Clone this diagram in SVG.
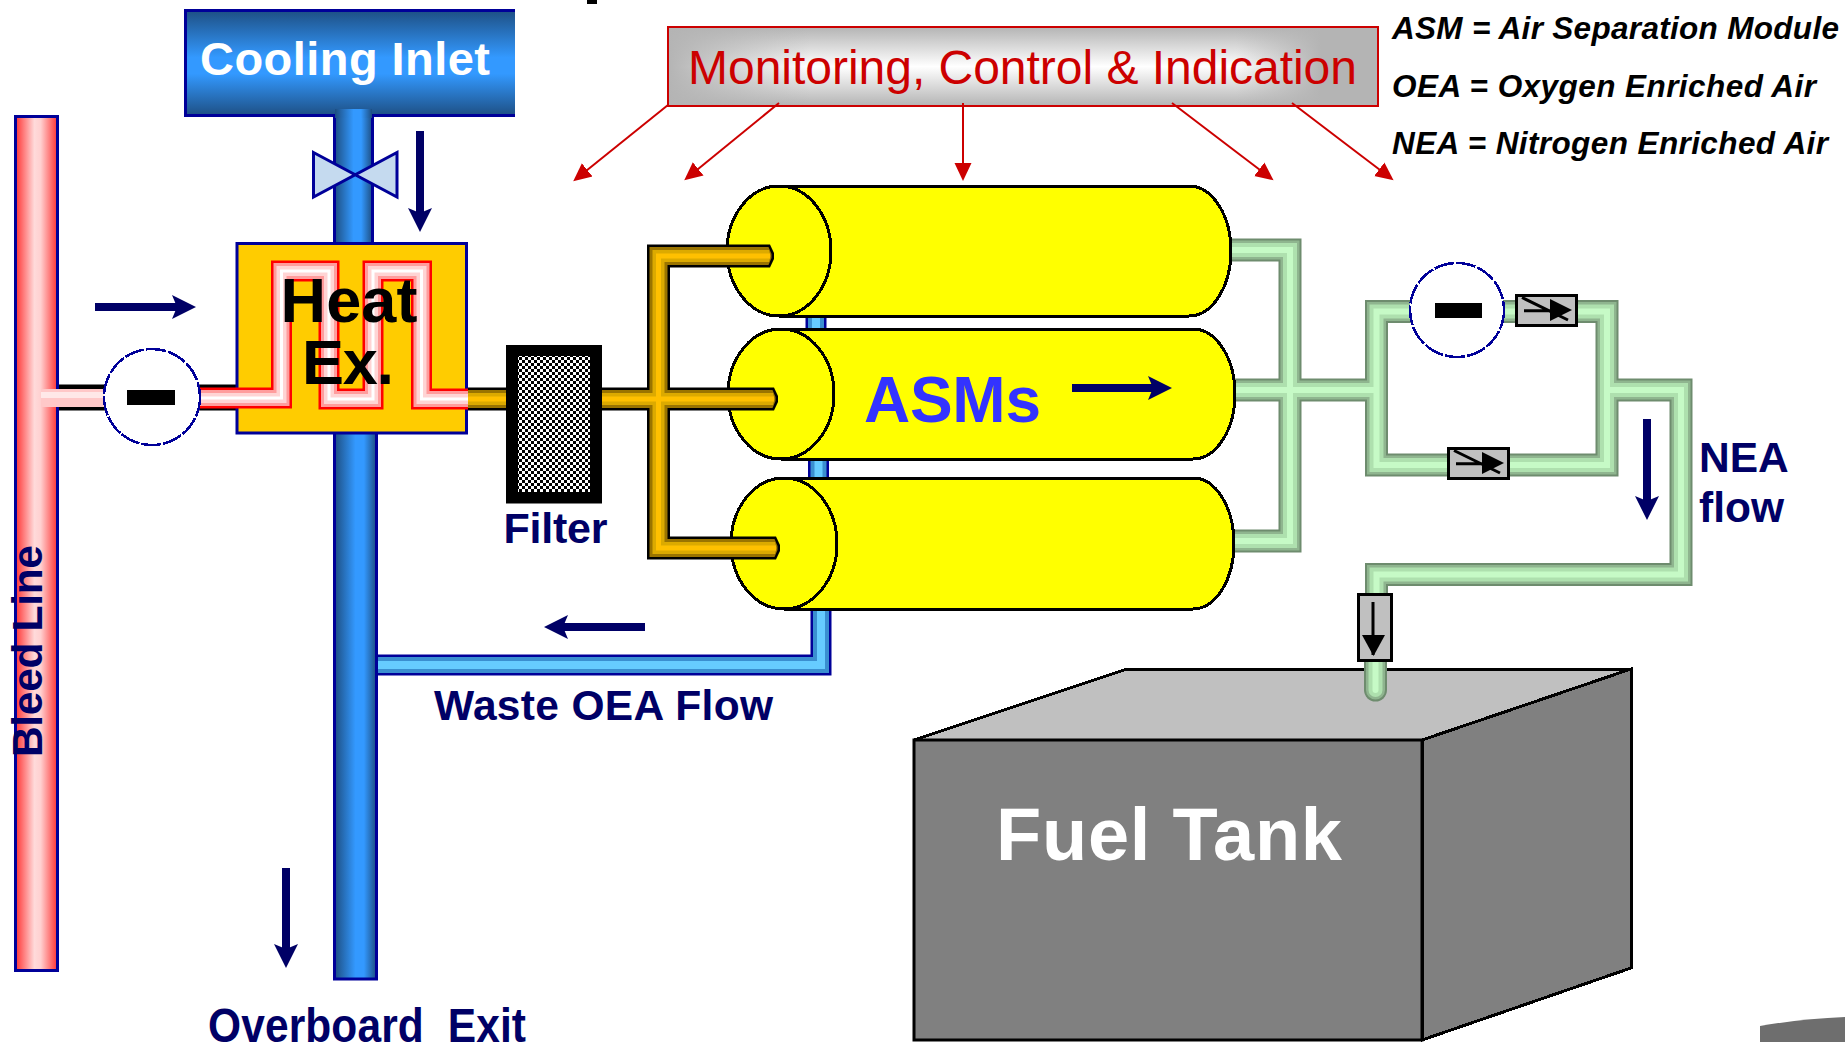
<svg xmlns="http://www.w3.org/2000/svg" xmlns:xlink="http://www.w3.org/1999/xlink" width="1845" height="1042" viewBox="0 0 1845 1042">
<style>
text{font-family:"Liberation Sans",Arial,sans-serif;font-weight:bold}
.navy{fill:#000066}
.lab{font-size:42.500px}
.leg{font-size:31.500px;font-style:italic;fill:#000}
.p{fill:none;stroke-linejoin:miter}
.aj{shape-rendering:crispEdges}
.farrow{fill:none;stroke:#000066;stroke-width:8;marker-end:url(#na)}
.rarrow{fill:none;stroke:#cc0000;stroke-width:2;marker-end:url(#ra)}
.cyl{fill:#ffff00;stroke:#000;stroke-width:3;shape-rendering:crispEdges}
.vc{fill:#fff;stroke:#000099;stroke-width:2.500;stroke-dasharray:20 2;shape-rendering:crispEdges}
</style>
<defs>
<marker id="na" markerUnits="userSpaceOnUse" markerWidth="32" markerHeight="30" refX="8" refY="15" orient="auto"><path d="M0 3L24 15L0 27L5 15Z" fill="#000066"/></marker>
<marker id="ra" markerUnits="userSpaceOnUse" markerWidth="22" markerHeight="20" refX="8" refY="10" orient="auto"><path d="M0 1.500L18 10L0 18.500Z" fill="#cc0000"/></marker>
<linearGradient id="cool" x1="0" y1="0" x2="0" y2="1"><stop offset="0" stop-color="#1d4d80"/><stop offset=".45" stop-color="#3399ff"/><stop offset=".6" stop-color="#3399ff"/><stop offset="1" stop-color="#1d4d80"/></linearGradient>
<linearGradient id="coolp" x1="0" y1="0" x2="1" y2="0"><stop offset="0" stop-color="#1d4d80"/><stop offset=".5" stop-color="#3399ff"/><stop offset=".7" stop-color="#3399ff"/><stop offset="1" stop-color="#1d4d80"/></linearGradient>
<linearGradient id="bleed" x1="0" y1="0" x2="1" y2="0"><stop offset="0" stop-color="#ff3333"/><stop offset=".45" stop-color="#ffdada"/><stop offset=".6" stop-color="#ffd0d0"/><stop offset="1" stop-color="#ff3333"/></linearGradient>
<linearGradient id="monv" x1="0" y1="0" x2="0" y2="1"><stop offset="0" stop-color="#b4b4b4"/><stop offset=".5" stop-color="#ffffff"/><stop offset="1" stop-color="#b4b4b4"/></linearGradient>
<linearGradient id="monh" x1="0" y1="0" x2="1" y2="0"><stop offset="0" stop-color="#b4b4b4"/><stop offset=".2" stop-color="#b4b4b4" stop-opacity="0"/><stop offset=".8" stop-color="#b4b4b4" stop-opacity="0"/><stop offset=".92" stop-color="#b4b4b4"/></linearGradient>
<pattern id="check" width="6" height="6" patternUnits="userSpaceOnUse"><rect width="6" height="6" fill="#fff"/><rect width="3" height="3" fill="#000"/><rect x="3" y="3" width="3" height="3" fill="#000"/></pattern>
<path id="serp" d="M105 398H281.500V271H329V399H373V271H421.500V399H468"/>
<path id="grn" d="M1232 250H1290V541H1232M1232 390H1376.500M1376.500 311.500H1607V465H1376.500ZM1607 390H1681V574.500H1376.500V640"/>
<path id="grnt" d="M1375.500 650V690"/>
<path id="amb" d="M766 256H658.500V548H772M468 399H770"/>
<path id="wst" d="M378 665H821V609M816 310V335M818.500 455V485"/>
<g id="tip"><path d="M-8 -11.500H-4L0 -3V3L-4 11.500H-8Z" fill="#000"/><path d="M-8 -9H-5.500L-2.500 -2V2L-5.500 9H-8Z" fill="#9a7400"/><path d="M-8 -6H-5L-3.500 0L-5 6H-8Z" fill="#dcaa00"/><path d="M-8 -2.500H-4V2.500H-8Z" fill="#ffc000"/></g>
<g id="chk"><rect x="1.500" y="1.500" width="60" height="30" fill="#c0c0c0" stroke="#000" stroke-width="3"/><path d="M9 16.700H36M7 3.500L53 26" stroke="#000" stroke-width="3" fill="none"/><path d="M35 5L57 16L35 27Z" fill="#000"/></g>
</defs>
<rect width="1845" height="1042" fill="#fff"/>
<rect x="587" y="0" width="10" height="4" fill="#000"/>
<path d="M1760 1026Q1800 1019 1845 1017V1042H1760Z" fill="#6e6e6e"/>

<g id="connectors">
<g id="waste-pipe" class="p">
<use href="#wst" stroke="#000099" stroke-width="21"/><use href="#wst" stroke="#3a8fd0" stroke-width="16"/><use href="#wst" stroke="#66ccff" stroke-width="8"/>
</g>
<g id="green-pipe" class="p">
<use href="#grn" stroke="#6e8c6e" stroke-width="23"/><use href="#grn" stroke="#8fb58f" stroke-width="19"/><use href="#grn" stroke="#aee0ae" stroke-width="14"/><use href="#grn" stroke="#c6fac6" stroke-width="6"/>
</g>
<rect x="58" y="384.500" width="178" height="26" fill="#000"/>
<path class="farrow" d="M95 307H180"/>
<path class="farrow" d="M420 131V216"/>
<path class="farrow" d="M645 627H560"/>
<path class="farrow" d="M1647 419V504"/>
<path class="farrow" d="M286 868V952"/>
</g>

<g id="bleed-line">
<rect x="15.500" y="116.500" width="42" height="854" fill="url(#bleed)" stroke="#000099" stroke-width="3"/>
<rect x="41" y="389" width="64" height="18" fill="#ffc8c8"/>
<rect x="41" y="392" width="64" height="6" fill="#ffe8e8"/>
<text class="lab navy" transform="translate(41.500 757) rotate(-90)" textLength="212">Bleed Line</text>
</g>

<g id="cooling-pipe">
<rect x="334.500" y="105" width="38" height="140" fill="url(#coolp)" stroke="#000099" stroke-width="3"/>
<rect x="334.500" y="430" width="42" height="549" fill="url(#coolp)" stroke="#000099" stroke-width="3"/>
</g>

<g id="cooling-inlet">
<rect x="184" y="9" width="331" height="108" fill="url(#cool)"/>
<path d="M515 10.500H185.500V115.500H515" fill="none" stroke="#000099" stroke-width="3"/>
<rect x="335" y="109" width="37" height="9" fill="url(#coolp)"/>
<text x="200" y="75" font-size="47" fill="#fff" textLength="290">Cooling Inlet</text>
</g>

<g id="cooling-valve">
<path d="M313.500 152.500L397 197V152.500L313.500 197Z" fill="#c5daef" stroke="#000099" stroke-width="3" stroke-linejoin="miter"/>
</g>

<g id="asm-top">
<path class="cyl" d="M779 186H1189A42 65 0 0 1 1189 316H779A52 65 0 0 1 779 186Z"/>
<ellipse class="cyl" cx="779" cy="251" rx="52" ry="65"/>
</g>
<g id="asm-mid">
<path class="cyl" d="M781 329H1193A42 65 0 0 1 1193 459H781A53 65 0 0 1 781 329Z"/>
<ellipse class="cyl" cx="781" cy="394" rx="53" ry="65"/>
<text x="864" y="422" font-size="64" fill="#3333ff" textLength="177">ASMs</text>
</g>
<g id="asm-bottom">
<path class="cyl" d="M784 478H1193A41 65.500 0 0 1 1193 609H784A53 65.500 0 0 1 784 478Z"/>
<ellipse class="cyl" cx="784" cy="543.500" rx="53" ry="65.500"/>
</g>
<path class="farrow" d="M1072 388H1156"/>

<g id="amber-pipe" class="p">
<use href="#amb" stroke="#000" stroke-width="23"/><use href="#amb" stroke="#9a7400" stroke-width="18"/><use href="#amb" stroke="#dcaa00" stroke-width="12"/><use href="#amb" stroke="#ffc000" stroke-width="5"/>
<use href="#tip" x="774" y="256"/><use href="#tip" x="778" y="399"/><use href="#tip" x="780" y="548"/>
</g>

<g id="heat-exchanger">
<rect x="237" y="243.500" width="229.500" height="189.500" fill="#ffcc00" stroke="#000099" stroke-width="3"/>
<g class="p">
<use href="#serp" stroke="#ff0000" stroke-width="21"/><use href="#serp" stroke="#ff9c9c" stroke-width="16"/><use href="#serp" stroke="#ffd4d4" stroke-width="10"/><use href="#serp" stroke="#fff" stroke-width="3"/>
</g>
<text x="349" y="322" font-size="63" fill="#000" text-anchor="middle" textLength="137">Heat</text>
<text x="348" y="384" font-size="63" fill="#000" text-anchor="middle" textLength="92">Ex.</text>
</g>

<g id="isolation-valve-1">
<circle class="vc" cx="152" cy="397" r="48"/>
<rect x="127" y="390" width="48" height="15" fill="#000"/>
</g>
<g id="isolation-valve-2">
<circle class="vc" cx="1457" cy="310" r="47"/>
<rect x="1435" y="303" width="47" height="15" fill="#000"/>
</g>

<g id="filter">
<rect x="506" y="345" width="96" height="158.500" fill="#000"/>
<rect x="518" y="356" width="72" height="136" fill="url(#check)"/>
<text x="503.500" y="543" font-size="43" class="navy" textLength="104">Filter</text>
</g>

<g id="check-valve-1"><use href="#chk" x="1515" y="294"/></g>
<g id="check-valve-2"><use href="#chk" x="1447" y="447"/></g>

<g id="fuel-tank">
<path d="M914 740L1127 669H1631L1422 740Z" fill="#c0c0c0" stroke="#000" stroke-width="3" class="aj"/>
<path d="M1422 740L1631 669V968L1422 1040Z" fill="#808080" stroke="#000" stroke-width="3" class="aj"/>
<rect x="914" y="740" width="508" height="300" fill="#808080" stroke="#000" stroke-width="3"/>
<text x="996" y="860" font-size="74" fill="#fff" textLength="346">Fuel Tank</text>
</g>
<g id="green-tip" class="p" stroke-linecap="round"><use href="#grnt" stroke="#6e8c6e" stroke-width="23"/><use href="#grnt" stroke="#8fb58f" stroke-width="19"/><use href="#grnt" stroke="#aee0ae" stroke-width="14"/><use href="#grnt" stroke="#c6fac6" stroke-width="6"/></g>

<g id="check-valve-3">
<rect x="1358.500" y="594.500" width="33" height="66" fill="#c0c0c0" stroke="#000" stroke-width="3"/>
<path d="M1373 602V655" stroke="#000" stroke-width="3"/>
<path d="M1362 635H1385L1373.500 656Z" fill="#000"/>
</g>

<g id="monitoring">
<rect x="668" y="27" width="710" height="79" fill="url(#monv)"/>
<rect x="668" y="27" width="710" height="79" fill="url(#monh)" stroke="#cc0000" stroke-width="2"/>
<text x="688" y="84" font-size="48" style="font-weight:normal" fill="#cc0000" textLength="669">Monitoring, Control &amp; Indication</text>
</g>

<g id="control-connectors">
<path class="rarrow" d="M668 105L581 175"/>
<path class="rarrow" d="M779 103L692 174"/>
<path class="rarrow" d="M963 103V171"/>
<path class="rarrow" d="M1172 103L1265.600 174.200"/>
<path class="rarrow" d="M1292 103L1385.600 174.200"/>
</g>

<g id="labels">
<text class="leg" x="1392" y="39" textLength="447">ASM = Air Separation Module</text>
<text class="leg" x="1392" y="96.500" textLength="424">OEA = Oxygen Enriched Air</text>
<text class="leg" x="1392" y="154" textLength="436">NEA = Nitrogen Enriched Air</text>
<text class="lab navy" x="434" y="720" textLength="339">Waste OEA Flow</text>
<text class="lab navy" transform="translate(208 1042) scale(1 1.120)" textLength="318" xml:space="preserve">Overboard  Exit</text>
<text class="lab navy" x="1699" y="471.500">NEA</text>
<text class="lab navy" x="1699" y="522">flow</text>
</g>
</svg>
